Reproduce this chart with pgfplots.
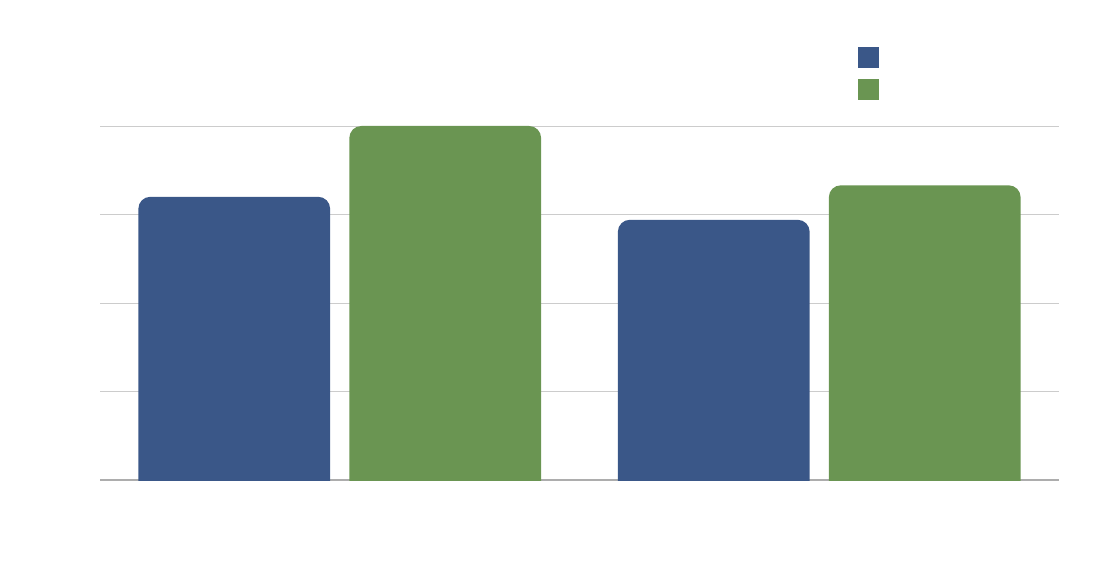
\documentclass[border=0pt]{standalone}
\usepackage{pgfplots}
\pgfplotsset{compat=1.18}
\definecolor{cblue}{HTML}{3A5788}
\definecolor{cgreen}{HTML}{6A9552}
\begin{document}
\begin{tikzpicture}
\useasboundingbox (-100pt,-62.3pt) rectangle (998pt,497.7pt);
\begin{scope}
% visible area: everything above the baseline (baseline sits at y=17.7pt)
\clip (-100pt,17.0pt) rectangle (998pt,497.7pt);
\begin{axis}[
  at={(0pt,0pt)}, anchor=south west,
  scale only axis, width=959pt, height=371.7pt,
  xmin=-0.5, xmax=1.5, ymin=0, ymax=4.2,
  y filter/.expression={y+0.2},
  ybar, bar width=0.4,
  xtick=\empty, ytick={1.2,2.2,3.2,4.2}, yticklabels={},
  extra y ticks={0.2}, extra y tick labels={},
  extra y tick style={grid style={draw=black!32, line width=1.4pt}},
  major tick length=0pt,
  axis line style={draw=none},
  ymajorgrids, grid style={draw=black!20, line width=0.8pt},
  legend style={at={(0.7904,1.2125)}, anchor=north west, draw=none, fill=none,
    inner sep=0pt, row sep=11pt, nodes={inner sep=0pt}},
  legend image code/.code={\fill[#1, sharp corners] (0pt,-10.5pt) rectangle (21pt,10.5pt);},
]
\addplot[fill=cblue, draw=none, bar shift=-0.22, rounded corners=12pt] coordinates {(0,3.20) (1,2.94)};
\addlegendentry{}
\addplot[fill=cgreen, draw=none, bar shift=0.22, rounded corners=12pt] coordinates {(0,4.00) (1,3.33)};
\addlegendentry{}
\end{axis}
\end{scope}
\end{tikzpicture}
\end{document}
